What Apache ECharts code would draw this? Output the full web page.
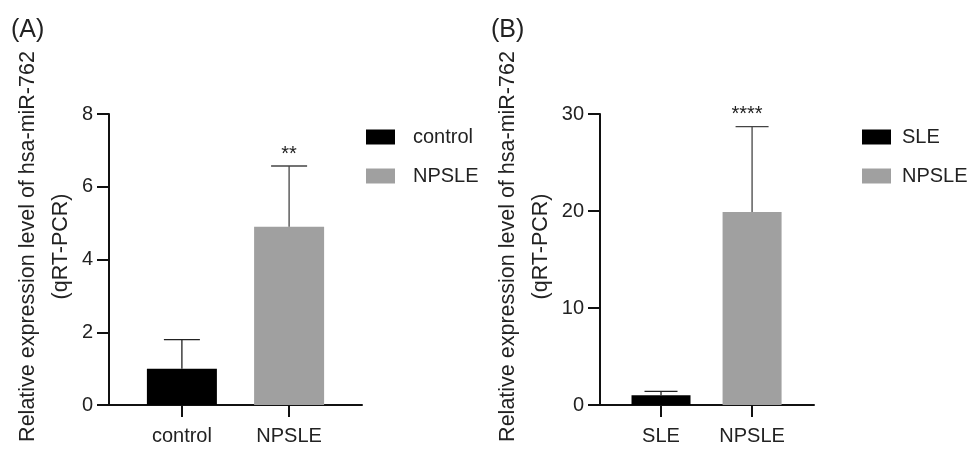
<!DOCTYPE html>
<html><head><meta charset="utf-8">
<script src="https://cdn.jsdelivr.net/npm/echarts@6/dist/echarts.min.js"></script>
<style>html,body{margin:0;padding:0;background:#fff}#c{width:971px;height:452px}</style>
</head><body><div id="c"></div>
<script>
// Panel A data
const catsA = ['control', 'NPSLE'];
const meanA = [1.0, 4.9];
const sdA = [0.8, 1.67];
const sigA = ['', '**'];
const ticksA = [0, 2, 4, 6, 8];
// Panel B data
const catsB = ['SLE', 'NPSLE'];
const meanB = [1.0, 19.9];
const sdB = [0.4, 8.8];
const sigB = ['', '****'];
const ticksB = [0, 10, 20, 30];
const yTitle = 'Relative expression level of hsa-miR-762\n(qRT-PCR)';

const FONT = 'Arial, "Liberation Sans", sans-serif';
const TXT = '#222';
const colors = ['#000000', '#a0a0a0'];
const whisk = ['#222', '#444'];

function errRender(sigs, capW, starDx) {
  return function (params, api) {
    const i = params.dataIndex;
    const x = api.value(0), m = api.value(1), s = api.value(2);
    const p0 = api.coord([x, m]);
    const p1 = api.coord([x, m + s]);
    const st = { stroke: whisk[i], lineWidth: 1.3 };
    const ch = [
      { type: 'line', shape: { x1: p0[0], y1: p0[1], x2: p1[0], y2: p1[1] }, style: st },
      { type: 'line', shape: { x1: p1[0] - capW / 2, y1: p1[1], x2: p1[0] + capW / 2, y2: p1[1] }, style: st }
    ];
    if (sigs[i]) {
      ch.push({ type: 'text', x: p1[0] + starDx, y: p1[1] - 2,
        style: { text: sigs[i], fill: TXT, fontSize: 20, fontFamily: FONT, align: 'center', verticalAlign: 'bottom' } });
    }
    return { type: 'group', children: ch };
  };
}

function xAxisOf(cats, min, max, gridIndex) {
  return {
    type: 'value', gridIndex, min, max,
    axisLine: { show: true, onZero: false, lineStyle: { color: '#111', width: 2 } },
    axisTick: { show: true, customValues: [0, 1], length: 12, lineStyle: { color: '#111', width: 2 } },
    axisLabel: { customValues: [0, 1], formatter: v => cats[Math.round(v)], fontSize: 20, color: TXT, fontFamily: FONT, margin: 21 },
    splitLine: { show: false }
  };
}
function yAxisOf(ticks, gridIndex, gap) {
  return {
    type: 'value', gridIndex, min: ticks[0], max: ticks[ticks.length - 1], interval: ticks[1] - ticks[0],
    axisLine: { show: true, onZero: false, lineStyle: { color: '#111', width: 2 } },
    axisTick: { show: true, length: 12, lineStyle: { color: '#111', width: 2 } },
    axisLabel: { fontSize: 20, color: TXT, fontFamily: FONT, margin: 16 },
    splitLine: { show: false },
    name: yTitle, nameLocation: 'middle', nameRotate: 90, nameGap: gap,
    nameTextStyle: { fontSize: 21.5, lineHeight: 33, color: TXT, fontFamily: FONT, align: 'center', padding: [0, 0, 0, 26] }
  };
}
function barSeries(name, x, y, idx, w, colorIdx) {
  return { type: 'bar', name, xAxisIndex: idx, yAxisIndex: idx, barWidth: w, barGap: '-100%',
    data: [[x, y]], itemStyle: { color: colors[colorIdx] }, z: 2 };
}
function legendOf(names, left, pad) {
  return { orient: 'vertical', left, top: 127, padding: 0, itemWidth: 29, itemHeight: 15, itemGap: 19,
    icon: 'rect', data: names, selectedMode: false,
    textStyle: { fontSize: 20, color: TXT, fontFamily: FONT, padding: [0, 0, 0, pad] } };
}

const chart = echarts.init(document.getElementById('c'), null, { renderer: 'canvas' });
chart.setOption({
  animation: false,
  backgroundColor: '#fff',
  textStyle: { fontFamily: FONT },
  title: [
    { text: '(A)', left: 11, top: 18, padding: 0, textStyle: { fontSize: 25, fontWeight: 'normal', color: TXT, fontFamily: FONT } },
    { text: '(B)', left: 491, top: 18, padding: 0, textStyle: { fontSize: 25, fontWeight: 'normal', color: TXT, fontFamily: FONT } }
  ],
  legend: [legendOf(catsA, 366, 13), legendOf(catsB, 862, 6)],
  grid: [
    { left: 109, right: 609, top: 114, bottom: 47, outerBoundsMode: 'none' },
    { left: 600, right: 157, top: 114, bottom: 47, outerBoundsMode: 'none' }
  ],
  xAxis: [xAxisOf(catsA, -0.68, 1.68, 0), xAxisOf(catsB, -0.67, 1.68, 1)],
  yAxis: [yAxisOf(ticksA, 0, 25), yAxisOf(ticksB, 1, 35)],
  series: [
    barSeries(catsA[0], 0, meanA[0], 0, 70, 0),
    barSeries(catsA[1], 1, meanA[1], 0, 70, 1),
    { type: 'custom', xAxisIndex: 0, yAxisIndex: 0, z: 3, renderItem: errRender(sigA, 36, 0),
      encode: { x: 0, y: 1 }, data: meanA.map((m, i) => [i, m, sdA[i]]) },
    barSeries(catsB[0], 0, meanB[0], 1, 59, 0),
    barSeries(catsB[1], 1, meanB[1], 1, 59, 1),
    { type: 'custom', xAxisIndex: 1, yAxisIndex: 1, z: 3, renderItem: errRender(sigB, 33, -5),
      encode: { x: 0, y: 1 }, data: meanB.map((m, i) => [i, m, sdB[i]]) }
  ]
});
</script></body></html>
